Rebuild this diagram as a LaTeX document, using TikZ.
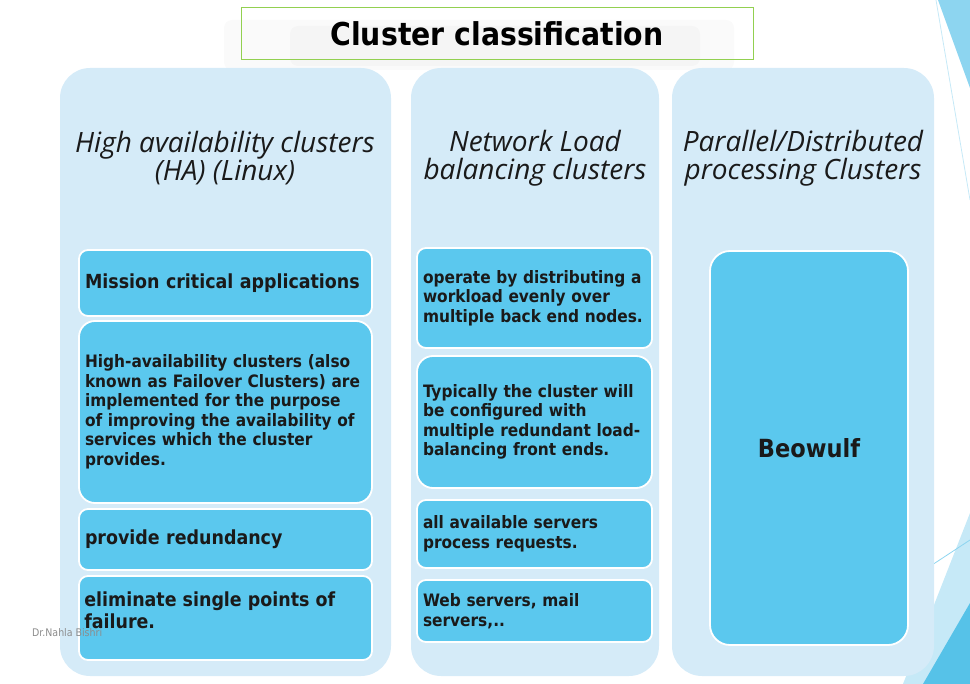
\documentclass[tikz,border=0pt]{standalone}
\usepackage{fontspec}
\setmainfont{Open Sans}
\newfontfamily\boxfont{DejaVu Sans Condensed}
\usepackage{xcolor}
\definecolor{colfill}{HTML}{D5EBF8}
\definecolor{boxfill}{HTML}{5BC8EE}
\definecolor{titleline}{HTML}{92D050}
\definecolor{decolight}{HTML}{C6E9F7}
\definecolor{decomid}{HTML}{8DD5F0}
\definecolor{decodark}{HTML}{56C2E8}
\definecolor{txt}{HTML}{1A1A1A}

\begin{document}
\begin{tikzpicture}[x=1pt, y=-1pt,
  column/.style={shape=rectangle, fill=colfill, rounded corners=30pt, inner sep=0pt},
  heading/.style={align=center, text=txt, font=\fontsize{28}{28}\selectfont\itshape},
  item/.style={shape=rectangle, fill=boxfill, draw=white, line width=1.8pt, rounded corners=9pt,
    inner xsep=6pt, align=left, text=txt, font=\boxfont\fontsize{17.1}{19.5}\selectfont\bfseries},
  bigitem/.style={item, font=\boxfont\fontsize{19.4}{22}\selectfont\bfseries}]
\useasboundingbox (0,0) rectangle (970,684);

% corner decoration
\fill[decomid] (938,0) -- (970,0) -- (970,88) -- cycle;
\draw[decolight, line width=0.8pt] (936,0) -- (970,200);
\fill[decolight] (903,684) -- (970,513) -- (970,684) -- cycle;
\fill[decodark] (923,684) -- (970,603) -- (970,684) -- cycle;
\draw[decomid, line width=0.8pt] (900,586) -- (970,540);

% title
\fill[black, opacity=0.02, rounded corners=8pt] (224,20) rectangle (734,70);
\fill[black, opacity=0.02, rounded corners=8pt] (290,26) rectangle (700,66);
\node at (497,34) [draw=titleline, line width=1pt, minimum width=512pt, minimum height=52pt,
  text=black, font=\boxfont\fontsize{31.5}{34}\selectfont\bfseries] (title) {Cluster classification};

% columns
\node at (225.5,372) [column, minimum width=331pt, minimum height=608pt] (col1) {};
\node at (535,372) [column, minimum width=248pt, minimum height=608pt] (col2) {};
\node at (803,372) [column, minimum width=262pt, minimum height=608pt] (col3) {};

\node at (225,158) [heading] (head1) {High availability clusters\\(HA) (Linux)};
\node at (535,158) [heading] (head2) {Network Load\\balancing clusters};
\node at (803,158) [heading] (head3) {Parallel/Distributed\\processing Clusters};

% HA column
\node at (225.5,283) [bigitem, minimum width=293pt, minimum height=66pt, text width=281pt] (ha1)
  {Mission critical applications};
\node at (225.5,412) [item, rounded corners=16pt, minimum width=293pt, minimum height=182pt, text width=281pt] (ha2)
  {High-availability clusters (also\\known as Failover Clusters) are\\implemented for the purpose\\of improving the availability of\\services which the cluster\\provides.};
\node at (225.5,539.5) [bigitem, minimum width=293pt, minimum height=61pt, text width=281pt] (ha3)
  {provide redundancy};
\node at (225.5,618) [bigitem, minimum width=293pt, minimum height=84pt, text width=281pt] (ha4) {};
\node at (ha4.west) [anchor=west, xshift=6pt, yshift=8pt, inner xsep=0pt, align=left, text=txt,
  font=\boxfont\fontsize{19.4}{22}\selectfont\bfseries] (ha4text) {eliminate single points of\\failure.};

% load balancing column
\node at (534.5,298) [item, minimum width=235pt, minimum height=100pt, text width=223pt] (lb1)
  {operate by distributing a\\workload evenly over\\multiple back end nodes.};
\node at (534.5,422) [item, rounded corners=16pt, minimum width=235pt, minimum height=132pt, text width=223pt] (lb2)
  {Typically the cluster will\\be configured with\\multiple redundant load-\\balancing front ends.};
\node at (534.5,534) [item, minimum width=235pt, minimum height=68pt, text width=223pt] (lb3)
  {all available servers\\process requests.};
\node at (534.5,611) [item, minimum width=235pt, minimum height=62pt, text width=223pt] (lb4)
  {Web servers, mail\\servers,..};

% parallel column
\node at (809,448) [item, rounded corners=20pt, minimum width=198pt, minimum height=394pt,
  align=center, font=\boxfont\fontsize{25}{28}\selectfont\bfseries] (beowulf) {Beowulf};

\node at (32,633) [anchor=west, inner sep=0pt, text=black!45, font=\boxfont\fontsize{10.5}{12}\selectfont] (author) {Dr.Nahla Bishri};
\end{tikzpicture}
\end{document}
